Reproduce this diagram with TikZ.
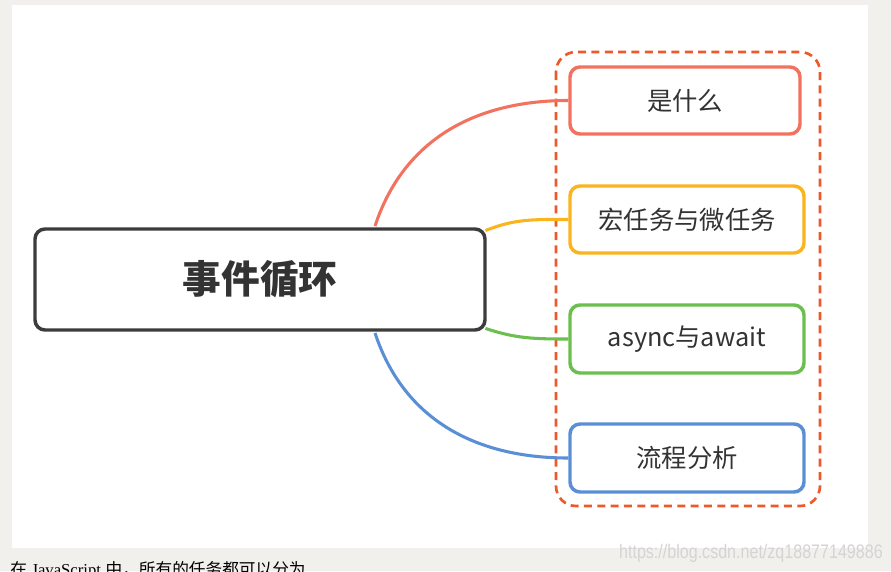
\documentclass[tikz,border=0pt]{standalone}
\usepackage{fontspec}
\setmainfont{Liberation Sans}
\newfontfamily\cjk{Noto Sans CJK SC}
\newfontfamily\seriflat{Liberation Serif}
\usetikzlibrary{calc}
\definecolor{bggray}{HTML}{F1F0ED}
\definecolor{cred}{HTML}{F2725F}
\definecolor{cyel}{HTML}{FBB41C}
\definecolor{cgreen}{HTML}{6BBF4E}
\definecolor{cblue}{HTML}{5A8FD6}
\definecolor{cdash}{HTML}{EC5A2C}
\definecolor{cmain}{HTML}{3C3C3C}
\definecolor{ctext}{HTML}{333333}
\definecolor{cwm}{HTML}{D4D4D4}
\begin{document}
\begin{tikzpicture}[x=0.75pt,y=-0.75pt,
  child/.style={draw, line width=2.6pt, rounded corners=7.5pt, fill=white, inner sep=0pt,
     minimum width=234*0.75pt, minimum height=67*0.75pt, font=\cjk\fontsize{19pt}{22pt}\selectfont, text=ctext},
  conn/.style={line width=2.3pt},
]
\useasboundingbox (0,0) rectangle (891,571);
\fill[bggray] (0,0) rectangle (891,571);
\fill[white] (12,5) rectangle (868,548);
% group
\draw[cdash, line width=2pt, dash pattern=on 6pt off 4pt, rounded corners=15pt] (556,52) rectangle (820,506);
% main
\node[draw=cmain, line width=2.6pt, rounded corners=7.5pt, fill=white, inner sep=0pt,
  minimum width=450*0.75pt, minimum height=101*0.75pt, text=ctext,
  font=\cjk\bfseries\fontsize{29pt}{32pt}\selectfont] (main) at (260,279.5) {事件循环};
% children
\node[child, draw=cred, minimum width=230*0.75pt] (c1) at (685,100.5) {是什么};
\node[child, draw=cyel] (c2) at (687,219.5) {宏任务与微任务};
\node[child, draw=cgreen, minimum height=68*0.75pt] (c3) at (687,339) {async与await};
\node[child, draw=cblue, minimum height=68*0.75pt] (c4) at (687,458) {流程分析};
% connectors
\draw[conn, cred] ([xshift=86.25pt, yshift=0.9pt]main.north) .. controls +(28,-85) and +(-95,0) .. (c1.west);
\draw[conn, cyel] ([xshift=-1pt, yshift=-2.5pt]main.north east) .. controls +(30,-12) and +(-35,0) .. (c2.west);
\draw[conn, cgreen] ([xshift=-1pt, yshift=2.5pt]main.south east) .. controls +(30,10) and +(-35,0) .. (c3.west);
\draw[conn, cblue] ([xshift=86.25pt, yshift=-0.9pt]main.south) .. controls +(28,85) and +(-95,0) .. (c4.west);
% watermark
\node[anchor=east, inner sep=0pt, text=cwm, font=\fontsize{14.7pt}{16pt}\selectfont] (wm) at (883,553)
  {\scalebox{0.82}[1]{https://blog.csdn.net/zq18877149886}};
% bottom text (cut off by the page edge, as in the reference)
\node[anchor=north west, inner sep=0pt, text=black, font=\fontsize{12.5pt}{15pt}\selectfont] (bt) at (10,561)
  {{\cjk 在} {\seriflat JavaScript} {\cjk 中，所有的任务都可以分为}};
\end{tikzpicture}
\end{document}
